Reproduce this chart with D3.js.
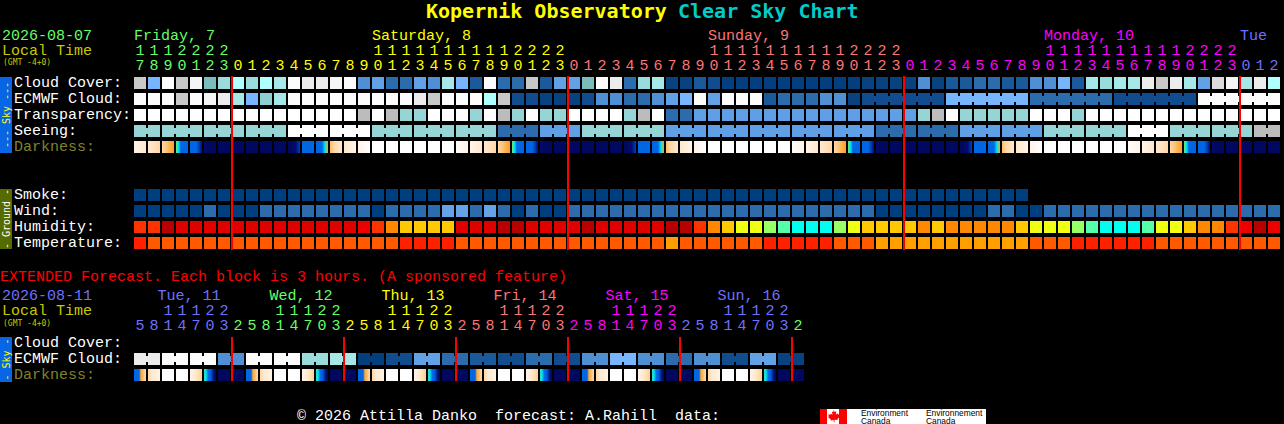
<!DOCTYPE html>
<html><head><meta charset="utf-8">
<style>
html,body{margin:0;padding:0;background:#000;overflow:hidden}
svg{display:block}
text{font-family:"Liberation Mono",monospace;font-size:15px;fill:#fff}
</style>
<script src="https://cdn.jsdelivr.net/npm/d3@7/dist/d3.min.js"></script>
</head><body><svg id="c" width="1284" height="424"></svg>
<script>
// ---- data ----
const mainHours=[17,18,19,20,21,22,23,
 0,1,2,3,4,5,6,7,8,9,10,11,12,13,14,15,16,17,18,19,20,21,22,23,
 0,1,2,3,4,5,6,7,8,9,10,11,12,13,14,15,16,17,18,19,20,21,22,23,
 0,1,2,3,4,5,6,7,8,9,10,11,12,13,14,15,16,17,18,19,20,21,22,23,
 0,1,2];
const extHours=[5,8,11,14,17,20,23,
 2,5,8,11,14,17,20,23, 2,5,8,11,14,17,20,23, 2,5,8,11,14,17,20,23,
 2,5,8,11,14,17,20,23, 2,5,8,11,14,17,20,23, 2];
const mainDays=["Friday, 7","Saturday, 8","Sunday, 9","Monday, 10","Tue"];
const extDays=["Tue, 11","Wed, 12","Thu, 13","Fri, 14","Sat, 15","Sun, 16"];
const dayColors=["#66ff66","#ffff00","#ff7474","#ff00ff","#7070ff"];
const skyLabels=["Cloud Cover:","ECMWF Cloud:","Transparency:","Seeing:","Darkness:"];
const groundLabels=["Smoke:","Wind:","Humidity:","Temperature:"];
const extLabels=["Cloud Cover:","ECMWF Cloud:","Darkness:"];

const cloudCover=[80,40,100,80,95,50,60,70,60,70,65,100,90,90,95,100,30,35,20,20,35,30,65,40,15,100,20,20,80,15,35,35,50,100,90,20,60,65,5,5,15,10,0,0,0,0,0,0,0,0,0,0,5,5,5,5,30,5,15,15,20,20,15,15,30,30,40,15,65,60,65,65,90,80,90,65,35,85,95,65,90,70];
const ecmwfCloud=[100,100,100,80,100,95,90,65,40,55,65,100,100,100,100,100,100,100,100,100,90,80,100,100,100,70,80,10,10,5,5,5,10,30,30,20,20,30,35,40,100,35,100,100,100,15,20,20,20,30,30,5,10,10,10,10,10,10,40,40,40,40,40,40,20,20,20,20,20,20,10,10,10,10,10,10,100,100,100,100,100,100];
const transparency=[0,0,0,0,0,0,0,0,0,0,0,0,0,0,0,0,1,0,1,2,2,0,0,0,2,0,1,2,0,2,2,0,0,0,0,2,1,0,4,4,3,3,3,3,3,3,3,3,3,3,3,3,3,3,3,3,2,1,0,2,2,2,2,2,0,0,0,2,0,0,0,0,0,0,0,0,0,0,0,0,0,0];
const seeingBlocks=[2,2,2,2,0,0,2,2,2,4,3,2,2,3,3,3,3,3,4,4,3,3,2,2,0,2,2,1];
const smoke=[0,0,0,0,0,0,0,0,0,0,0,0,0,0,0,0,0,0,0,0,0,0,0,0,0,0,0,0,0,0,0,0,0,0,0,0,0,0,0,0,0,0,0,0,0,0,0,0,0,0,0,0,0,0,0,0,0,0,0,0,0,0,0,0];
const wind=[0,0,0,0,0,1,0,0,0,1,1,1,1,1,1,1,1,0,1,1,1,1,2,2,1,2,1,0,1,0,0,1,1,1,1,1,1,1,1,1,1,1,1,1,1,1,1,1,1,1,1,1,1,0,0,0,0,0,0,0,0,1,1,0,0,1,1,1,1,1,1,1,1,1,1,1,1,1,1,1,1,1];
const humidity=[85,85,100,95,95,95,95,95,95,95,95,95,95,95,95,95,90,85,80,75,75,75,75,95,95,95,100,100,95,95,95,95,100,95,95,95,95,95,100,100,85,80,75,70,70,65,60,55,55,55,65,70,75,75,75,75,80,75,80,80,80,80,80,75,70,70,70,65,60,55,55,55,60,70,70,75,80,80,85,90,100,90];
const temperature=[77,70,70,70,70,70,70,70,70,70,70,70,70,70,70,70,70,70,70,77,77,77,77,70,70,70,70,70,70,70,70,70,70,70,70,70,70,70,64,70,70,70,70,70,70,77,77,77,77,77,70,70,70,64,64,64,64,64,64,64,64,64,64,64,70,70,70,77,77,77,77,77,77,70,70,70,70,70,70,70,70,70];
const extEcmwf=[90,100,100,30,100,100,60,65,0,10,35,20,15,10,20,10,30,40,30,20,30,10,35,5];

// darkness stops per hour of the day (0 daylight ... 9 night), evenly spread across one block
const darkByHour={0:[9,9,9,9],1:[9,9,9,9],2:[9,9,9,9],3:[9,9,9,9],4:[9,9,8.3,7],5:[6,6,6,6],6:[6,6,6,5,4],7:[3.5,3,2.5,2],8:[2,1.7,1.3,1],9:[1,.7,.3,0],10:[0,0,0,0],11:[0,0,0,0],12:[0,0,0,0],13:[0,0,0,0],14:[0,0,0,0],15:[0,0,0,.2],16:[.2,.5,.8,1],17:[1,1.3,1.7,2],18:[2,2.3,2.7,3],19:[3,3.3,3.7,4],20:[4.6,5,6,6,6,6],21:[6,6,6,7,8.5],22:[8.6,9,9,9],23:[9,9,9,9]};
const extDarkByHour={2:[9,9,9,9],5:[6,6,6,6,3.9,3.6,3.2,3],8:[3,2,1.5,1],11:[0,0,0,0],14:[0,0,0,.3],17:[1,1.5,2.5,3.2],20:[4.9,5,6,6,7,8.5,9],23:[9,9,9,9]};

const cloudKeys=[0,5,10,15,20,30,35,40,50,55,60,65,70,80,85,90,95,100];
const cloudHex=["#033f7f","#08437f","#114d8e","#1a5a9a","#2b6cad","#4f8fd3","#62a1e6","#77b5ff","#7bbcbc","#8cd0d0","#9adcdc","#a6e8e8","#b0ffff","#c8c8c8","#dcdcdc","#ececec","#f5f5f5","#fcfcfc"];
const skyKeys=[0,1,2,3,4];
const skyHex=["#ffffff","#bcbcbc","#95d5d5","#5f9fe6","#2c6cad"];
const windKeys=[0,1,2];
const windHex=["#003f7f","#2c6cad","#63a3e6"];
const humKeys=[55,60,65,70,75,80,85,90,95,100];
const humHex=["#00ffee","#55ffaa","#99ff66","#eeff11","#ffc800","#ff8800","#ff3300","#ee0000","#e00000","#b80000"];
const tempKeys=[64,70,77];
const tempHex=["#ffa000","#ff5a00","#ff2000"];
const darkKeys=[0,1,2,3,4,4.5,5,6,7,8,9];
const darkHex=["#ffffff","#fff4e6","#ffe8cc","#ffd8a8","#ffa020","#90e060","#00e8e8","#0066e6","#0040b8","#001080","#000860"];

// ---- scales ----
const STEP=14,BAR=12;
const xMain=d3.scaleBand(d3.range(mainHours.length),[134,134+STEP*mainHours.length-(STEP-BAR)]).paddingInner((STEP-BAR)/STEP);
const xExt=d3.scaleBand(d3.range(extHours.length),[134,134+STEP*extHours.length-(STEP-BAR)]).paddingInner((STEP-BAR)/STEP);
const cCloud=d3.scaleOrdinal(cloudKeys,cloudHex), cSky=d3.scaleOrdinal(skyKeys,skyHex),
      cWind=d3.scaleOrdinal(windKeys,windHex), cHum=d3.scaleOrdinal(humKeys,humHex), cTemp=d3.scaleOrdinal(tempKeys,tempHex);
const cDark=d3.scaleLinear(darkKeys,darkHex).clamp(true);

const svg=d3.select("#c");
svg.append("rect").attr("width",1284).attr("height",424).attr("fill","#000");
const defs=svg.append("defs");
const gCells=svg.append("g").attr("shape-rendering","crispEdges");

function row(values,x,y,color,groupOf){
  const g=gCells.append("g");
  g.selectAll("rect.c").data(values).join("rect").attr("class","c")
   .attr("x",(d,i)=>x(i)).attr("y",y).attr("width",x.bandwidth()).attr("height",BAR).attr("fill",d=>color(d));
  if(groupOf){
    const links=values.map((d,i)=>i).filter(i=>i+1<values.length&&groupOf(i)!==null&&groupOf(i)===groupOf(i+1));
    g.selectAll("rect.l").data(links).join("rect").attr("class","l")
     .attr("x",i=>x(i)+BAR).attr("y",y+3).attr("width",STEP-BAR).attr("height",BAR-6).attr("fill",i=>color(values[i]));
  }
}
let gid=0;
function darkRow(hours,table,x,y){
  const g=gCells.append("g");
  hours.forEach((h,i)=>{
    const id="d"+(gid++), st=table[h];
    const lg=defs.append("linearGradient").attr("id",id);
    st.forEach((v,k)=>lg.append("stop").attr("offset",k/(st.length-1)).attr("stop-color",cDark(v)));
    g.append("rect").attr("x",x(i)).attr("y",y).attr("width",BAR).attr("height",BAR).attr("fill",`url(#${id})`);
  });
}
function text(s,x,y,fill,attrs){
  const t=svg.append("text").attr("x",x).attr("y",y).style("fill",fill).text(s);
  Object.entries(attrs||{}).forEach(([k,v])=>t.style(k,v));
  return t;
}
function hourLabels(hours,x,startDay,y10,y1,dayY,dayNames,dayOff){
  let day=startDay,prev=-1;
  const dayIdx=hours.map(h=>{ if(h<prev){day++;} prev=h; return day;});
  const color=i=>dayColors[dayIdx[i]%dayColors.length];
  const g=svg.append("g").attr("text-anchor","middle");
  hours.forEach((h,i)=>{
    const cx=x(i)+x.bandwidth()/2;
    g.append("text").attr("x",cx).attr("y",y1).style("fill",color(i)).text(h%10);
    if(h>=10) g.append("text").attr("x",cx).attr("y",y10).style("fill",color(i)).text(Math.floor(h/10));
  });
  dayNames.forEach((n,k)=>{
    const d=startDay+k, cols=d3.range(hours.length).filter(i=>dayIdx[i]===d);
    const c=cols.find(i=>hours[i]>=10);
    const col=c===undefined?cols[0]:c;
    text(n,x(col)+(dayOff||0),dayY,dayColors[d%dayColors.length]);
  });
}

// ---- main block ----
const rowY={cloud:77,ecmwf:93,trans:109,seeing:125,dark:141,smoke:189,wind:205,hum:221,temp:237};
row(cloudCover,xMain,rowY.cloud,cCloud);
row(ecmwfCloud,xMain,rowY.ecmwf,cCloud,i=>i>=52?Math.floor((i-52)/6):null);
row(transparency,xMain,rowY.trans,cSky);
const seeGroup=i=>Math.floor((i+1)/3);
row(mainHours.map((h,i)=>seeingBlocks[seeGroup(i)]),xMain,rowY.seeing,cSky,seeGroup);
darkRow(mainHours,darkByHour,xMain,rowY.dark);
row(smoke,xMain,rowY.smoke,cWind);
row(wind,xMain,rowY.wind,cWind);
row(humidity,xMain,rowY.hum,cHum);
row(temperature,xMain,rowY.temp,cTemp);

// ---- extended block ----
const extGroup=i=>Math.floor(i/2);
row(extHours.map((h,i)=>extEcmwf[extGroup(i)]),xExt,353,cCloud,extGroup);
darkRow(extHours,extDarkByHour,xExt,369);

// midnight lines
const mainMidnights=mainHours.map((h,i)=>h===0?i:-1).filter(i=>i>=0);
const extMidnights=extHours.map((h,i)=>i>0&&h<extHours[i-1]?i:-1).filter(i=>i>=0);
const lines=svg.append("g").attr("shape-rendering","crispEdges");
lines.selectAll("rect.m").data(mainMidnights).join("rect").attr("class","m").attr("x",i=>xMain(i)-1).attr("y",76).attr("width",2).attr("height",174).attr("fill","#f00");
lines.selectAll("rect.e").data(extMidnights).join("rect").attr("class","e").attr("x",i=>xExt(i)-1).attr("y",337).attr("width",2).attr("height",44).attr("fill","#f00");

// side bars
function sideBar(y,h,color,label,fill){
  svg.append("rect").attr("x",0).attr("y",y).attr("width",12).attr("height",h).attr("fill",color).attr("shape-rendering","crispEdges");
  svg.append("text").attr("transform",`translate(10,${y+h/2}) rotate(-90)`).attr("text-anchor","middle")
     .style("fill",fill).style("font-family","'DejaVu Sans Mono',monospace").style("font-size","10px").text(label);
}
sideBar(77,76,"#0866e6","--- Sky ---","#ffff00");
sideBar(189,60,"#556b00","- Ground -","#ffffff");
sideBar(337,45,"#0866e6","- Sky -","#ffff00");

// ---- text ----
const tc="#ffffff", olive="#82822a", lime="#c8c800", bold={"font-size":"20px","font-weight":"bold","font-family":"'DejaVu Sans Mono',monospace"}, small={"font-size":"8px","font-family":"'DejaVu Sans Mono',monospace"};
text("Kopernik Observatory",426,18,"#ffff00",bold);
text("Clear Sky Chart",678,18,"#00cccc",bold);
text("2026-08-07",2,40,"#66ff66");
text("Local Time",2,55,lime);
text("(GMT -4+0)",3,65,lime,small);
[87,103,119,135,151].forEach((y,i)=>text(skyLabels[i],14,y,i===4?olive:tc));
[199,215,231,247].forEach((y,i)=>text(groundLabels[i],14,y,tc));
hourLabels(mainHours,xMain,0,55,70,40,mainDays,0);

text("EXTENDED Forecast. Each block is 3 hours. (A sponsored feature)",0,281,"#ff0000");
text("2026-08-11",2,300,"#7070ff");
text("Local Time",2,315,lime);
text("(GMT -4+0)",3,325.5,lime,small);
[347,363,379].forEach((y,i)=>text(extLabels[i],14,y,i===2?olive:tc));
hourLabels(extHours,xExt,4,315,330,300,extDays,-4.5);

text("\u00a9 2026 Attilla Danko  forecast: A.Rahill  data:",297,420,tc).style("white-space","pre");

// Environment Canada signature
const logo=svg.append("g");
logo.append("rect").attr("x",820).attr("y",409).attr("width",166).attr("height",15).attr("fill","#fff");
logo.append("rect").attr("x",820).attr("y",409).attr("width",7).attr("height",15).attr("fill","#f00");
logo.append("rect").attr("x",839).attr("y",409).attr("width",8).attr("height",15).attr("fill","#f00");
logo.append("path").attr("fill","#f00").attr("d","M833.5 410l1.3 2 1.5-.7-.6 3.4 1.7-1.4.6 1.2 2-.3-.7 2 .9.6-2.8 2.3.3 1-3.2-.4v2.6h-.8V420l-3.2.4.3-1-2.8-2.3.9-.6-.7-2 2 .3.6-1.2 1.7 1.4-.6-3.4 1.5.7z");
[["Environment",861,416],["Canada",861,423.5],["Environnement",926,416],["Canada",926,423.5]].forEach(d=>
  logo.append("text").attr("x",d[1]).attr("y",d[2]).style("fill","#000").style("font-size","8.4px").style("font-family","'Liberation Sans',sans-serif").text(d[0]));
</script></body></html>
